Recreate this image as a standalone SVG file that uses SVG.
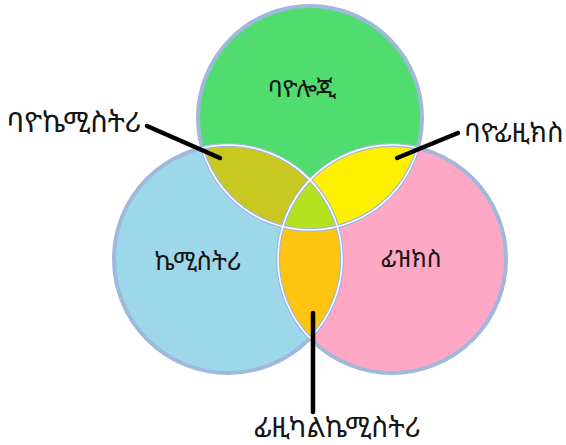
<svg xmlns="http://www.w3.org/2000/svg" width="566" height="445" viewBox="0 0 566 445">
<style>
.lbl{font-family:"Noto Sans Ethiopic","Abyssinica SIL","Noto Sans","DejaVu Sans",sans-serif;fill:#151515;text-anchor:middle}
.ring{fill:none;stroke:#a0b8dc;stroke-width:4}
.gloss{fill:none;stroke:#ffffff;stroke-width:1.5}
.callout{stroke:#000;stroke-width:4.5;stroke-linecap:round;fill:none}
</style>
<defs>
<clipPath id="cG"><circle cx="310" cy="118" r="112"/></clipPath>
<clipPath id="cB"><circle cx="228" cy="259" r="114"/></clipPath>
<clipPath id="cP"><circle cx="392" cy="259" r="114"/></clipPath>
<clipPath id="cBP"><circle cx="228" cy="259" r="114"/><circle cx="392" cy="259" r="114"/></clipPath>
<clipPath id="cGP"><circle cx="310" cy="118" r="112"/><circle cx="392" cy="259" r="114"/></clipPath>
<clipPath id="cGB"><circle cx="310" cy="118" r="112"/><circle cx="228" cy="259" r="114"/></clipPath>
</defs>
<g id="biology">
<circle cx="310" cy="118" r="112" fill="#50dc6e"/>
</g>
<g id="chemistry">
<circle cx="228" cy="259" r="114" fill="#9dd8ea"/>
</g>
<g id="physics">
<circle cx="392" cy="259" r="114" fill="#ffa8c6"/>
</g>
<g id="biochemistry">
<circle cx="228" cy="259" r="114" fill="#c8c820" clip-path="url(#cG)"/>
</g>
<g id="biophysics">
<circle cx="392" cy="259" r="114" fill="#fff000" clip-path="url(#cG)"/>
</g>
<g id="physical-chemistry">
<circle cx="392" cy="259" r="114" fill="#ffc410" clip-path="url(#cB)"/>
</g>
<g id="center">
<path d="M310,179.8 A114,114 0 0 1 337.3,226.6 A112,112 0 0 1 282.7,226.6 A114,114 0 0 1 310,179.8 Z" fill="#b4e21e" stroke="#ff40ff" stroke-width="1.2" stroke-dasharray="2 1.5"/>
</g>
<g id="outlines">
<circle class="ring" cx="310" cy="118" r="112"/>
<circle class="ring" cx="228" cy="259" r="114"/>
<circle class="ring" cx="392" cy="259" r="114"/>
<circle class="gloss" cx="310" cy="118" r="112" clip-path="url(#cBP)"/>
<circle class="gloss" cx="228" cy="259" r="114" clip-path="url(#cGP)"/>
<circle class="gloss" cx="392" cy="259" r="114" clip-path="url(#cGB)"/>
</g>
<g id="connectors">
<line class="callout" x1="147" y1="126" x2="220" y2="158"/>
<line class="callout" x1="458" y1="133" x2="397" y2="158"/>
<line class="callout" x1="313" y1="313" x2="313" y2="412"/>
</g>
<g id="labels">
<text class="lbl" x="302" y="97" font-size="24">ባዮሎጂ</text>
<text class="lbl" x="74" y="132" font-size="28.5">ባዮኬሚስትሪ</text>
<text class="lbl" x="514" y="142" font-size="27">ባዮፊዚክስ</text>
<text class="lbl" x="198" y="270" font-size="25">ኬሚስትሪ</text>
<text class="lbl" x="411" y="267" font-size="24">ፊዝክስ</text>
<text class="lbl" x="337" y="437" font-size="27.5">ፊዚካልኬሚስትሪ</text>
</g>
</svg>
